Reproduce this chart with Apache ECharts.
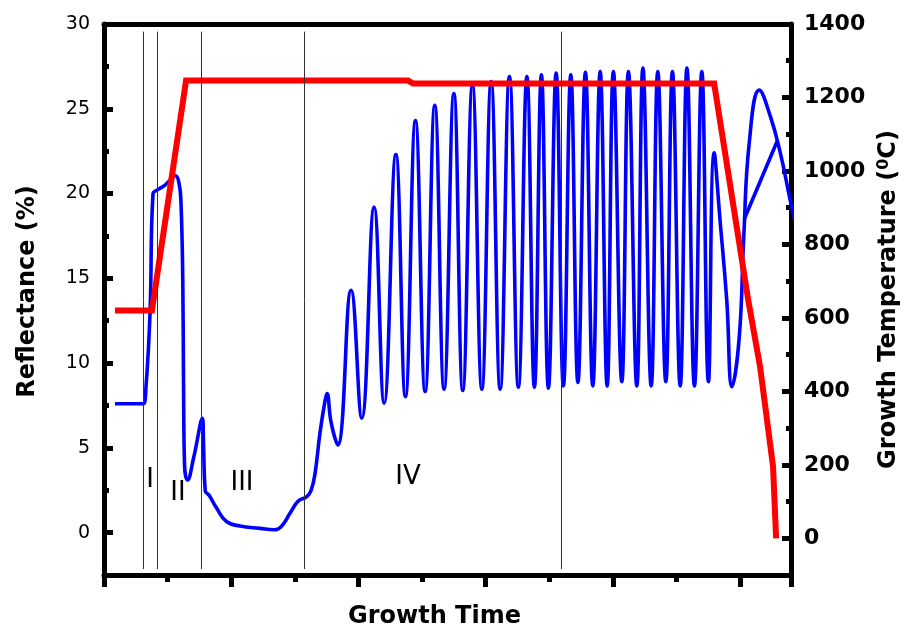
<!DOCTYPE html>
<html><head><meta charset="utf-8">
<script src="https://cdn.jsdelivr.net/npm/echarts@6/dist/echarts.min.js"></script>
<style>html,body{margin:0;padding:0;background:#fff}#c{width:910px;height:628px}</style>
</head><body><div id="c"></div>
<script>
// Reflectance trace (left axis, %)
const reflTime = [0.86,3.07,3.30,3.62,3.85,4.17,4.80,5.27,5.62,5.90,6.05,6.19,6.25,6.33,6.57,7.04,7.73,7.82,7.96,8.26,8.86,9.65,10.69,12.27,13.37,13.92,14.62,15.25,15.94,16.28,16.59,16.98,17.38,17.53,17.85,18.37,19.42,20.26,21.23,22.02,22.94,23.69,24.48,25.24,26.00,26.73,27.50,28.20,28.96,29.70,30.43,31.14,31.87,32.57,33.24,33.83,34.38,34.93,35.54,36.11,36.69,37.25,37.84,38.42,39.00,39.55,40.04,40.70,41.22,41.88,42.36,43.01,43.53,44.16,44.68,45.29,45.82,46.41,46.99,47.51,47.96,48.42,48.95,49.36,49.93,50.29,50.72,51.51,52.38,53.16,53.94,54.33];
const reflValue = [7.6,7.6,8.6,13.0,20.0,20.2,20.5,20.85,21.05,20.6,19.5,15.0,9.0,4.0,3.1,4.4,6.75,5.3,2.45,2.2,1.43,0.64,0.39,0.25,0.17,0.35,1.14,1.85,2.12,2.5,3.5,5.9,7.8,8.2,6.5,5.17,14.3,6.75,19.2,7.63,22.3,8.02,24.3,8.32,25.2,8.46,25.9,8.38,26.4,8.46,26.6,8.46,26.9,8.58,26.9,8.58,27.0,8.52,27.1,8.65,27.0,8.85,27.15,8.65,27.2,8.65,27.2,8.9,27.2,8.65,27.4,8.65,27.2,8.9,27.2,8.65,27.4,8.65,27.2,8.9,22.4,18.45,13.7,8.6,11.5,17.5,23.0,26.1,24.55,22.4,19.6,18.3];
// Straight segment of the reflectance trace at the end
const chordTime = [50.33,52.92];
const chordValue = [18.5,23.1];
// Growth temperature (right axis, deg C)
const tempTime = [0.86,3.77,6.45,23.90,24.30,47.96,50.63,51.57,52.59,52.83];
const tempValue = [620,620,1246,1246,1238,1238,650,467,195,0];
// Stage boundaries and labels
const stageBounds = [3.07,4.17,7.62,15.73,35.92];
const stageLineRange = [-2.15,29.55];
const stageNames = ['I','II','III','IV'];
// Axis ticks
const reflTicks = [0,5,10,15,20,25,30];
const reflMinorTicks = [2.5,7.5,12.5,17.5,22.5,27.5];
const tempTicks = [0,200,400,600,800,1000,1200,1400];
const tempMinorTicks = [100,300,500,700,900,1100,1300];

const FONT = 'DejaVu Sans';
const chart = echarts.init(document.getElementById('c'), null, {renderer:'canvas'});

const reflData = reflTime.map((t,i)=>[t,reflValue[i]]);
const chordData = chordTime.map((t,i)=>[t,chordValue[i]]);
const tempData = tempTime.map((t,i)=>[t,tempValue[i]]);
const stageLines = stageBounds.map(x=>[{coord:[x,stageLineRange[1]]},{coord:[x,stageLineRange[0]]}]);

const stagePos = [[150,480],[178,493],[242,483],[408,477]];
const plain = v => String(v);
const gridBox = {left:104,right:119,top:24,bottom:53,containLabel:false,outerBoundsMode:'none'};
const blackLine = {color:'#000',width:5};

chart.setOption({
  animation:false,
  backgroundColor:'#fff',
  grid:[Object.assign({},gridBox),Object.assign({},gridBox)],
  xAxis:[{
    gridIndex:0,type:'value',min:0,max:54,interval:10,position:'bottom',
    name:'Growth Time',nameLocation:'middle',nameGap:30,
    nameTextStyle:{fontFamily:FONT,fontWeight:'bold',fontSize:24,color:'#000',padding:[0,26,0,0]},
    axisLine:{show:true,onZero:false,lineStyle:blackLine},
    axisTick:{show:true,inside:false,length:12,lineStyle:blackLine},
    minorTick:{show:true,splitNumber:2,length:7,lineStyle:blackLine},
    axisLabel:{show:false},splitLine:{show:false},minorSplitLine:{show:false}
  },{
    gridIndex:0,type:'value',min:0,max:54,position:'top',
    axisLine:{show:true,onZero:false,lineStyle:blackLine},
    axisTick:{show:false},axisLabel:{show:false},splitLine:{show:false}
  },{
    gridIndex:1,type:'value',min:0,max:54,position:'bottom',show:false
  }],
  yAxis:[{
    gridIndex:0,type:'value',min:-2.5,max:30,interval:2.5,position:'left',
    name:'Reflectance (%)',nameLocation:'middle',nameGap:64,nameRotate:90,
    nameTextStyle:{fontFamily:FONT,fontWeight:'bold',fontSize:24,color:'#000',padding:[0,0,0,16]},
    axisLine:{show:true,onZero:false,lineStyle:blackLine},
    axisTick:{show:true,inside:true,length:9,customValues:reflTicks,lineStyle:blackLine},
    axisLabel:{show:true,customValues:reflTicks,formatter:plain,margin:14,fontFamily:FONT,fontSize:19,color:'#000'},
    splitLine:{show:false}
  },{
    gridIndex:0,type:'value',min:-100,max:1400,interval:100,position:'right',
    name:'Growth Temperature ({s|0}C)',nameLocation:'middle',nameGap:76,nameRotate:90,
    nameTextStyle:{fontFamily:FONT,fontWeight:'bold',fontSize:24,color:'#000',
      rich:{s:{fontFamily:FONT,fontWeight:'bold',fontSize:16,color:'#000',verticalAlign:'top',padding:[0,0,10,0]}}},
    axisLine:{show:true,onZero:false,lineStyle:blackLine},
    axisTick:{show:true,inside:true,length:9,customValues:tempTicks,lineStyle:blackLine},
    axisLabel:{show:true,customValues:tempTicks,formatter:plain,margin:13,fontFamily:FONT,fontWeight:'bold',fontSize:22,color:'#000'},
    splitLine:{show:false}
  },{
    gridIndex:1,type:'value',min:-2.5,max:30,interval:2.5,position:'left',
    axisLine:{show:false},
    axisTick:{show:true,inside:true,length:5,customValues:reflMinorTicks,lineStyle:blackLine},
    axisLabel:{show:false},splitLine:{show:false}
  },{
    gridIndex:1,type:'value',min:-100,max:1400,interval:100,position:'right',
    axisLine:{show:false},
    axisTick:{show:true,inside:true,length:5,customValues:tempMinorTicks,lineStyle:blackLine},
    axisLabel:{show:false},splitLine:{show:false}
  }],
  series:[{
    type:'line',xAxisIndex:0,yAxisIndex:0,data:[],silent:true,z:1,
    markLine:{silent:true,symbol:['none','none'],label:{show:false},
      lineStyle:{color:'#333',width:1,type:'solid'},data:stageLines}
  },{
    type:'line',xAxisIndex:0,yAxisIndex:0,data:reflData,smooth:0.45,showSymbol:false,
    lineStyle:{color:'#0000ff',width:3.6},z:3
  },{
    type:'line',xAxisIndex:0,yAxisIndex:0,data:chordData,showSymbol:false,
    lineStyle:{color:'#0000ff',width:3.6},z:3
  },{
    type:'line',xAxisIndex:0,yAxisIndex:1,data:tempData,showSymbol:false,
    lineStyle:{color:'#ff0000',width:6,join:'miter'},z:4
  }],
  graphic: stageNames.map((n,i)=>({
    type:'text',x:stagePos[i][0],y:stagePos[i][1],z:10,
    style:{text:n,fontFamily:FONT,fontSize:26,fill:'#000',align:'center',verticalAlign:'middle'}
  }))
});
</script></body></html>
